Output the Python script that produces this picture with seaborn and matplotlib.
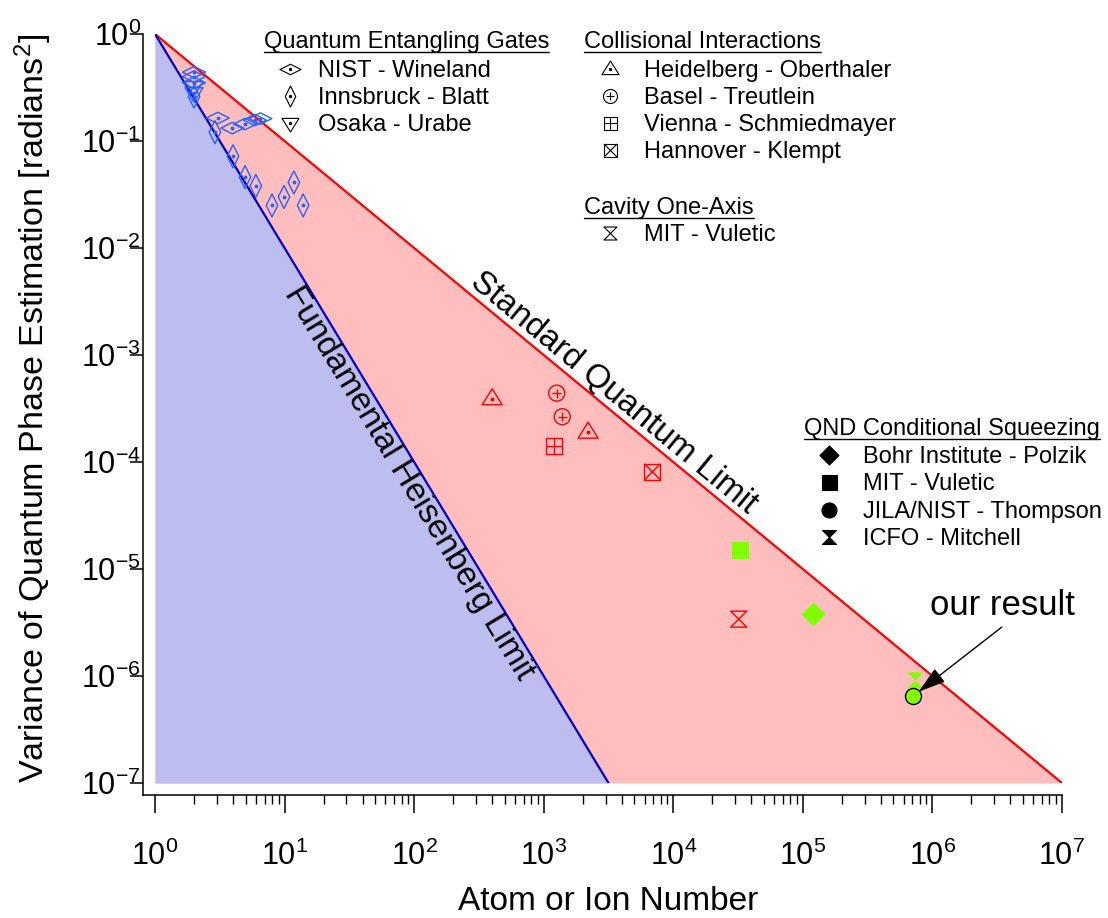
import numpy as np
import matplotlib
matplotlib.use("Agg")
import matplotlib.pyplot as plt
import seaborn as sns
from matplotlib.path import Path
from matplotlib.lines import Line2D
from matplotlib.ticker import LogLocator, NullLocator, NullFormatter

# ---------------------------------------------------------------- data
# theoretical limits (end points of straight lines on log-log axes)
sql_n = [1.0, 1e7]
sql_var = [1.0, 1e-7]
hl_n = [1.0, 10 ** 3.5]
hl_var = [1.0, 1e-7]

# quantum entangling gates
nist_n = [2.0, 2.0, 2.0, 3.05, 3.95, 4.95, 5.9, 6.5]
nist_var = [0.44, 0.40, 0.35, 0.164, 0.132, 0.144, 0.157, 0.162]
innsbruck_n = [2.0, 2.9, 4.0, 4.95, 6.0, 8.0, 9.9, 11.8, 13.9]
innsbruck_var = [0.26, 0.121, 0.072, 0.046, 0.038, 0.025, 0.030, 0.041, 0.025]
osaka_n = [2.0, 2.0]
osaka_var = [0.32, 0.28]

# collisional interactions
heidelberg_n = [400.0, 2200.0]
heidelberg_var = [3.9e-4, 1.9e-4]
basel_n = [1260.0, 1390.0]
basel_var = [4.4e-4, 2.65e-4]
vienna_n = [1200.0]
vienna_var = [1.4e-4]
hannover_n = [6900.0]
hannover_var = [8.1e-5]

# cavity one-axis twisting
mit_cav_n = [32000.0]
mit_cav_var = [3.4e-6]

# QND conditional squeezing
bohr_n = [1.2e5]
bohr_var = [3.8e-6]
mit_qnd_n = [33000.0]
mit_qnd_var = [1.5e-5]
jila_n = [7.1e5]
jila_var = [6.5e-7]
icfo_n = [7.3e5]
icfo_var = [9.2e-7]

x_ticks = [10.0 ** k for k in range(0, 8)]
y_ticks = [10.0 ** -k for k in range(0, 8)]

# ---------------------------------------------------------------- style
sns.set_style("ticks")
plt.rcParams["font.family"] = ["Liberation Sans", "DejaVu Sans"]
plt.rcParams["mathtext.fontset"] = "custom"
plt.rcParams["mathtext.rm"] = "Liberation Sans"
plt.rcParams["mathtext.it"] = "Liberation Sans:italic"
plt.rcParams["mathtext.bf"] = "Liberation Sans:bold"
for key in ("text.color", "axes.labelcolor", "xtick.color", "ytick.color",
            "xtick.labelcolor", "ytick.labelcolor"):
    plt.rcParams[key] = "black"

RED = "#FF0000"
PINK = "#FFBDBD"
LAVENDER = "#BDBDF0"
NAVY = "#0000C8"
BLUE = "#2462FF"
GREEN = "#7FFF00"
PT = 0.72  # points per pixel at 100 dpi

# marker shapes
CL = Path.CLOSEPOLY
HDIAM = Path([(-1, 0), (0, 0.5), (1, 0), (0, -0.5), (-1, 0)], [1, 2, 2, 2, CL])
VDIAM = Path([(0, 1), (0.5, 0), (0, -1), (-0.5, 0), (0, 1)], [1, 2, 2, 2, CL])
DIAM = Path([(0, 1), (1, 0), (0, -1), (-1, 0), (0, 1)], [1, 2, 2, 2, CL])
TRI_UP = Path([(-1, -0.6), (1, -0.6), (0, 1.0), (-1, -0.6)], [1, 2, 2, CL])
TRI_DN = Path([(-1, 0.6), (1, 0.6), (0, -1.0), (-1, 0.6)], [1, 2, 2, CL])
HOURGLASS = Path([(-1, 1), (1, 1), (-1, -1), (1, -1), (-1, 1)], [1, 2, 2, 2, CL])
PLUS = Path([(-1, 0), (1, 0), (0, -1), (0, 1)], [1, 2, 1, 2])
CROSS = Path([(-1, -1), (1, 1), (-1, 1), (1, -1)], [1, 2, 1, 2])

# (marker, size in px, filled)
DOT = ("o", 2.5, True)
ST_NIST = [(HDIAM, 23, False), DOT]
ST_INNS = [(VDIAM, 23, False), DOT]
ST_OSAKA = [(TRI_DN, 18, False), DOT]
ST_HEID = [(TRI_UP, 20, False), DOT]
ST_BASEL = [("o", 16, False), (PLUS, 9, False)]
ST_VIENNA = [("s", 16, False), (PLUS, 16, False)]
ST_HANN = [("s", 16, False), (CROSS, 16, False)]
ST_MITCAV = [(HOURGLASS, 16, False)]
ST_BOHR = [(DIAM, 24, True)]
ST_MITQND = [("s", 17, True)]
ST_JILA = [("o", 16, True)]
ST_ICFO = [(HOURGLASS, 16, True)]

W, H = 1108, 918
fig = plt.figure(figsize=(W / 100, H / 100), dpi=100)
ax = fig.add_axes([155 / W, 1 - 783 / H, 907 / W, 749 / H])
ax.set_xscale("log")
ax.set_yscale("log")

# ---------------------------------------------------------------- regions and limit lines
ax.fill_between(sql_n, sql_var, 1e-7, color=PINK, lw=0, zorder=1)
ax.fill_between(hl_n, hl_var, 1e-7, color=LAVENDER, lw=0, zorder=1.1)
sns.lineplot(x=sql_n, y=sql_var, color=RED, lw=1.6, ax=ax, zorder=2,
             estimator=None, sort=False)
sns.lineplot(x=hl_n, y=hl_var, color=NAVY, lw=1.6, ax=ax, zorder=2,
             estimator=None, sort=False)


def plot_marks(n, v, layers, color, edge=None, lw=1.0, z=5):
    for mk, size_px, filled in layers:
        fc = color if filled else "none"
        ec = edge if edge is not None else color
        sns.scatterplot(x=n, y=v, marker=mk, s=(size_px * PT) ** 2,
                        facecolor=fc, edgecolor=ec, linewidth=lw,
                        ax=ax, zorder=z, legend=False)


plot_marks(nist_n, nist_var, ST_NIST, BLUE)
plot_marks(innsbruck_n, innsbruck_var, ST_INNS, BLUE)
plot_marks(osaka_n, osaka_var, ST_OSAKA, BLUE)
plot_marks(heidelberg_n, heidelberg_var, ST_HEID, RED)
plot_marks(basel_n, basel_var, ST_BASEL, RED)
plot_marks(vienna_n, vienna_var, ST_VIENNA, RED)
plot_marks(hannover_n, hannover_var, ST_HANN, RED)
plot_marks(mit_cav_n, mit_cav_var, ST_MITCAV, RED)
plot_marks(mit_qnd_n, mit_qnd_var, ST_MITQND, GREEN, lw=0)
plot_marks(bohr_n, bohr_var, ST_BOHR, GREEN, lw=0)
plot_marks(icfo_n, icfo_var, ST_ICFO, GREEN, lw=0)
plot_marks(jila_n, jila_var, ST_JILA, GREEN, edge="k", lw=1.0, z=6)

# ---------------------------------------------------------------- axes
ax.set_xlim(1, 1e7)
ax.set_ylim(1e-7, 1)
for side in ("top", "right"):
    ax.spines[side].set_visible(False)
for side in ("left", "bottom"):
    ax.spines[side].set_position(("outward", 12 * PT))
    ax.spines[side].set_color("k")
    ax.spines[side].set_linewidth(1.1)
ax.spines["left"].set_bounds(10 ** (-7 - 12 / 107), 1)
ax.spines["bottom"].set_bounds(10 ** (-12 / 129.57), 1e7)

ax.set_xticks(x_ticks)
ax.set_yticks(y_ticks)
ax.xaxis.set_minor_locator(LogLocator(base=10, subs=np.arange(2, 10), numticks=20))
ax.xaxis.set_minor_formatter(NullFormatter())
ax.yaxis.set_minor_locator(NullLocator())
ax.tick_params(axis="x", which="major", direction="out", length=13, width=1.1,
               color="k", labelsize=22, pad=20, bottom=True)
ax.tick_params(axis="x", which="minor", direction="out", length=6.5, width=1.0,
               color="k", bottom=True)
ax.tick_params(axis="y", which="major", direction="out", length=9.5, width=1.1,
               color="k", labelsize=22, pad=-8, left=True)
ax.grid(False)

ax.set_xlabel("Atom or Ion Number", fontsize=24, va="center")
ax.xaxis.set_label_coords(0.4995, -0.158)
ax.set_ylabel(r"Variance of Quantum Phase Estimation [$\mathdefault{radians^{2}}$]",
              fontsize=24.5, va="center")
ax.yaxis.set_label_coords(-0.1345, 0.50)

# ---------------------------------------------------------------- limit labels
sql_angle = -np.degrees(np.arctan2(107, 129.57))
hl_angle = -np.degrees(np.arctan2(2 * 107, 129.57))
ax.text(2900, 1 / 2900, "Standard Quantum Limit", rotation=sql_angle,
        rotation_mode="anchor", ha="center", va="bottom", fontsize=24, zorder=7)
ax.text(115, 1 / 115 ** 2, "Fundamental Heisenberg Limit", rotation=hl_angle,
        rotation_mode="anchor", ha="center", va="top", fontsize=24, zorder=7)

# ---------------------------------------------------------------- our result
ax.text(3.44e6, 4.6e-6, "our result", ha="center", va="center", fontsize=25, zorder=7)
ax.annotate("", xy=(jila_n[0], jila_var[0]), xytext=(3.44e6, 2.87e-6),
            arrowprops=dict(arrowstyle="-|>,head_length=0.85,head_width=0.26",
                            color="k", lw=1.0, shrinkA=0, shrinkB=5,
                            mutation_scale=20), zorder=8)

# ---------------------------------------------------------------- legend blocks
renderer = fig.canvas.get_renderer()


def legend_block(x_title, base_title, title, x_mark, x_text, rows):
    t = fig.text(x_title / W, 1 - base_title / H, title, fontsize=17,
                 ha="left", va="baseline")
    bb = t.get_window_extent(renderer)
    yu = 1 - (base_title + 4) / H
    fig.add_artist(Line2D([bb.x0 / W, bb.x1 / W], [yu, yu], color="k", lw=1.0,
                          transform=fig.transFigure))
    for label, layers, base in rows:
        yc = 1 - (base - 8) / H
        for mk, size_px, filled in layers:
            fig.add_artist(Line2D([x_mark / W], [yc], marker=mk,
                                  markersize=size_px * PT,
                                  mfc="k" if filled else "none", mec="k",
                                  mew=0.8, ls="none",
                                  transform=fig.transFigure))
        fig.text(x_text / W, 1 - base / H, label, fontsize=17,
                 ha="left", va="baseline")


LDOT = ("o", 2.2, True)
legend_block(264, 48, "Quantum Entangling Gates", 290, 318, [
    ("NIST - Wineland", [(HDIAM, 21, False), LDOT], 77),
    ("Innsbruck - Blatt", [(VDIAM, 21, False), LDOT], 104),
    ("Osaka - Urabe", [(TRI_DN, 17, False), LDOT], 131),
])
legend_block(584, 48, "Collisional Interactions", 610, 644, [
    ("Heidelberg - Oberthaler", [(TRI_UP, 17, False), LDOT], 77),
    ("Basel - Treutlein", [("o", 14, False), (PLUS, 8, False)], 104),
    ("Vienna - Schmiedmayer", [("s", 13, False), (PLUS, 13, False)], 131),
    ("Hannover - Klempt", [("s", 13, False), (CROSS, 13, False)], 158),
])
legend_block(584, 214, "Cavity One-Axis", 610, 644, [
    ("MIT - Vuletic", [(HOURGLASS, 13, False)], 241),
])
legend_block(804, 435, "QND Conditional Squeezing", 829, 863, [
    ("Bohr Institute - Polzik", [(DIAM, 19, True)], 463),
    ("MIT - Vuletic", [("s", 15, True)], 490),
    ("JILA/NIST - Thompson", [("o", 15, True)], 518),
    ("ICFO - Mitchell", [(HOURGLASS, 14, True)], 545),
])

fig.savefig("out.png", dpi=100)
